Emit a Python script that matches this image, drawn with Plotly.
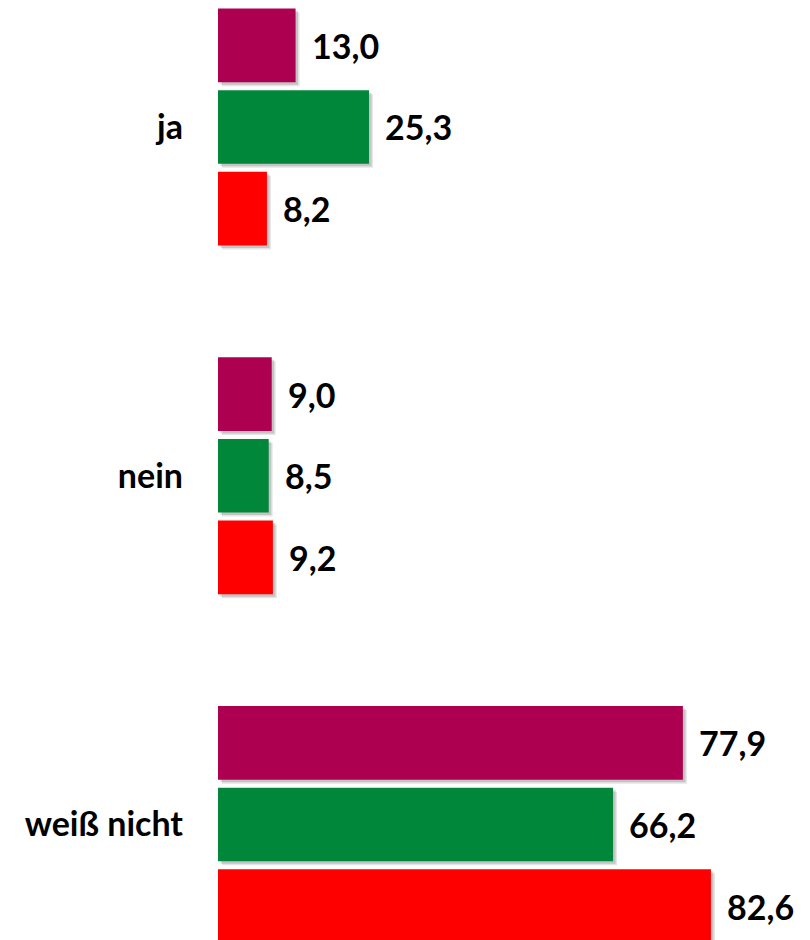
import plotly.graph_objects as go

categories = ["ja", "nein", "weiß nicht"]
series_names = ["Serie 1", "Serie 2", "Serie 3"]
values_1 = [13.0, 9.0, 77.9]
values_2 = [25.3, 8.5, 66.2]
values_3 = [8.2, 9.2, 82.6]
series_values = [values_1, values_2, values_3]
colors = ["#AE0050", "#00873A", "#FF0000"]

# the page body adds an 8px margin; size the figure to the remaining area
W, H = 802, 932
left_margin = 210
x_max = 99.2
y_top, y_bottom = -0.3412, 2.3312

slot = 0.234
bar_w = 0.211
px_x = (W - left_margin) / x_max
px_y = H / (y_bottom - y_top)

idx = list(range(len(categories)))
fig = go.Figure()

# soft shadows
for i, vals in enumerate(series_values):
    center = (i - 1) * slot
    for d, alpha in [(4, 0.10), (2.5, 0.14)]:
        fig.add_trace(go.Bar(
            orientation="h", x=vals, y=idx, base=d / px_x,
            width=bar_w, offset=center - bar_w / 2 + d / px_y,
            marker=dict(color=f"rgba(0,0,0,{alpha})", line=dict(width=0)),
            hoverinfo="skip", showlegend=False))

for i, (name, vals) in enumerate(zip(series_names, series_values)):
    center = (i - 1) * slot
    fig.add_trace(go.Bar(
        orientation="h", x=vals, y=idx, name=name,
        width=bar_w, offset=center - bar_w / 2,
        marker=dict(color=colors[i], line=dict(width=0)),
        showlegend=False))
    for j, v in enumerate(vals):
        fig.add_annotation(
            x=v, y=j + center, text=f"{v:.1f}".replace(".", ","),
            xanchor="left", yanchor="middle", xshift=14, showarrow=False,
            font=dict(family="Lato", size=34, color="#000000", weight="bold"))

fig.update_layout(
    width=W, height=H, barmode="overlay",
    margin=dict(l=left_margin, r=0, t=0, b=0, pad=0),
    paper_bgcolor="white", plot_bgcolor="white",
    xaxis=dict(range=[0, x_max], visible=False, fixedrange=True),
    yaxis=dict(range=[y_bottom, y_top], tickvals=idx, ticktext=categories,
               showgrid=False, zeroline=False, showline=False, ticks="",
               ticklabelstandoff=34,
               tickfont=dict(family="Lato", size=34, color="#000000", weight="bold")),
)

fig.write_html("out.html")
